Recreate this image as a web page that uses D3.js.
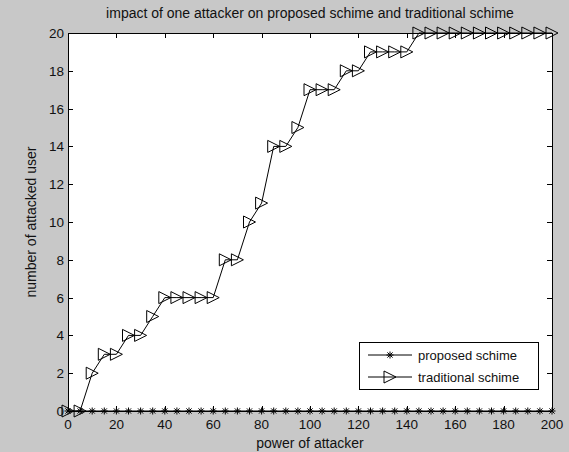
<!DOCTYPE html>
<html><head><meta charset="utf-8">
<script src="https://cdn.jsdelivr.net/npm/d3@7"></script>
<style>body{margin:0;background:#c8c8c8;}svg{display:block;font-family:"Liberation Sans",Arial,sans-serif;}</style>
</head><body>
<svg id="chart" width="569" height="452"></svg>
<script>
const xValues = d3.range(0, 201, 5);
const proposed = xValues.map(() => 0);
const traditional = [0,0,2,3,3,4,4,5,6,6,6,6,6,8,8,10,11,14,14,15,17,17,17,18,18,19,19,19,19,20,20,20,20,20,20,20,20,20,20,20,20];
const xTicks = [0,20,40,60,80,100,120,140,160,180,200];
const yTicks = [0,2,4,6,8,10,12,14,16,18,20];
const seriesNames = ["proposed schime","traditional schime"];
const titleText = "impact of one attacker on proposed schime and traditional schime";
const xLabel = "power of attacker";
const yLabel = "number of attacked user";

const svg = d3.select("#chart");
svg.append("rect").attr("width",569).attr("height",452).attr("fill","#c8c8c8");
const L=68,R=552,T=33,B=411;
const x = d3.scaleLinear().domain([0,200]).range([L,R]);
const y = d3.scaleLinear().domain([0,20]).range([B,T]);

svg.append("rect").attr("x",L).attr("y",T).attr("width",R-L).attr("height",B-T).attr("fill","#fff");

// ticks inward
const tl=5;
const g = svg.append("g").attr("stroke","#000").attr("stroke-width",1);
xTicks.forEach(t=>{
  const px=Math.round(x(t))+0.5;
  g.append("line").attr("x1",px).attr("x2",px).attr("y1",B).attr("y2",B-tl);
  g.append("line").attr("x1",px).attr("x2",px).attr("y1",T).attr("y2",T+tl);
});
yTicks.forEach(t=>{
  const py=Math.round(y(t))+0.5;
  g.append("line").attr("x1",L).attr("x2",L+tl).attr("y1",py).attr("y2",py);
  g.append("line").attr("x1",R).attr("x2",R-tl).attr("y1",py).attr("y2",py);
});
svg.append("rect").attr("x",L+0.5).attr("y",T+0.5).attr("width",R-L).attr("height",B-T).attr("fill","none").attr("stroke","#000");

const txt = svg.append("g").attr("font-size",14).attr("fill","#111");
xTicks.forEach(t=>txt.append("text").attr("font-size",13.5).attr("x",x(t)).attr("y",B+18).attr("text-anchor","middle").text(t));
yTicks.forEach(t=>txt.append("text").attr("font-size",13.5).attr("x",L-4).attr("y",y(t)+5).attr("text-anchor","end").text(t));
txt.append("text").attr("x",(L+R)/2).attr("y",18).attr("text-anchor","middle").text(titleText);
txt.append("text").attr("x",(L+R)/2).attr("y",448).attr("text-anchor","middle").text(xLabel);
txt.append("text").attr("transform",`translate(36,${(T+B)/2}) rotate(-90)`).attr("text-anchor","middle").text(yLabel);

const line = d3.line().x(d=>x(d[0])).y(d=>y(d[1]));
const dataP = xValues.map((v,i)=>[v,proposed[i]]);
const dataT = xValues.map((v,i)=>[v,traditional[i]]);

function star(sel,cx,cy){
  const s=3.5, d=2.6;
  sel.append("path").attr("d",`M${cx-s},${cy}H${cx+s}M${cx},${cy-s}V${cy+s}M${cx-d},${cy-d}L${cx+d},${cy+d}M${cx-d},${cy+d}L${cx+d},${cy-d}`)
    .attr("stroke","#000").attr("stroke-width",1).attr("fill","none");
}
function tri(sel,cx,cy){
  const h=6;
  sel.append("path").attr("d",`M${cx-h},${cy-h}L${cx+h},${cy}L${cx-h},${cy+h}Z`)
    .attr("stroke","#000").attr("stroke-width",1).attr("fill","none");
}

svg.append("path").datum(dataT).attr("d",line).attr("fill","none").attr("stroke","#000");
svg.append("path").datum(dataP).attr("d",line).attr("fill","none").attr("stroke","#000");
const mk = svg.append("g");
dataT.forEach(d=>tri(mk,x(d[0]),y(d[1])));
dataP.forEach(d=>star(mk,x(d[0]),y(d[1])));

// legend
const lg = svg.append("g");
lg.append("rect").attr("x",359.5).attr("y",342.5).attr("width",179).attr("height",47).attr("fill","#fff").attr("stroke","#000");
[0,1].forEach(i=>{
  const ly = 355 + i*22;
  lg.append("line").attr("x1",368).attr("x2",412).attr("y1",ly).attr("y2",ly).attr("stroke","#000");
  if(i===0) star(lg,390,ly); else tri(lg,390,ly);
  lg.append("text").attr("x",418).attr("y",ly+5).attr("font-size",13).attr("fill","#111").text(seriesNames[i]);
});
</script>
</body></html>
